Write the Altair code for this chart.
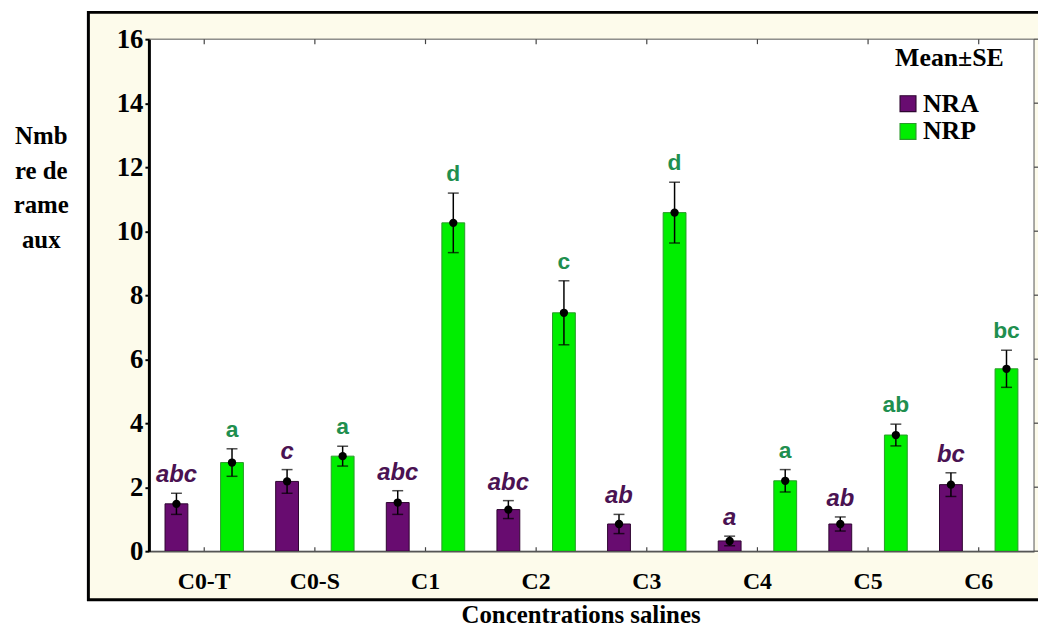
import altair as alt
import pandas as pd

# ---- data ----
categories = ["C0-T", "C0-S", "C1", "C2", "C3", "C4", "C5", "C6"]
series_names = ["NRA", "NRP"]
nra_mean = [1.48, 2.18, 1.52, 1.30, 0.85, 0.32, 0.85, 2.08]
nra_se = [0.33, 0.37, 0.37, 0.28, 0.30, 0.15, 0.22, 0.37]
nrp_mean = [2.77, 2.97, 10.26, 7.45, 10.58, 2.20, 3.63, 5.70]
nrp_se = [0.43, 0.31, 0.93, 1.00, 0.95, 0.35, 0.34, 0.58]
nra_letters = ["abc", "c", "abc", "abc", "ab", "a", "ab", "bc"]
nrp_letters = ["a", "a", "d", "c", "d", "a", "ab", "bc"]
y_ticks = [0, 2, 4, 6, 8, 10, 12, 14, 16]

rows = []
for i, c in enumerate(categories):
    rows.append(dict(cat=c, series="NRA", mean=nra_mean[i], se=nra_se[i], letter=nra_letters[i]))
    rows.append(dict(cat=c, series="NRP", mean=nrp_mean[i], se=nrp_se[i], letter=nrp_letters[i]))
df = pd.DataFrame(rows)
df["lo"] = df["mean"] - df["se"]
df["hi"] = df["mean"] + df["se"]
cat_df = pd.DataFrame({"cat": categories})
tick_df = pd.DataFrame({"v": y_ticks})
one = pd.DataFrame({"k": [0]})

W, H = 892, 516
SERIF = "Liberation Serif"
SANS = "Liberation Sans"
CREAM = "#fdfbeb"

yscale = alt.Scale(domain=[0, 16], nice=False, zero=True)
xscale = alt.Scale(paddingInner=0, paddingOuter=0)
xoscale = alt.Scale(paddingInner=0.589, paddingOuter=0.29)

x_axis = alt.Axis(
    labelAngle=0, labelFont=SERIF, labelFontSize=24, labelFontWeight="bold",
    labelColor="black", ticks=False, labelPadding=19,
    domainColor="#555555", domainWidth=1.5, grid=False,
    title="Concentrations salines", titleFont=SERIF, titleFontSize=25,
    titleFontWeight="bold", titleColor="black", titleX=435, titleY=72,
    titleBaseline="alphabetic", titleAlign="center", zindex=1,
)
y_axis = alt.Axis(
    values=y_ticks, labelFont=SERIF, labelFontSize=27, labelFontWeight="bold",
    labelColor="black", domainColor="black", domainWidth=3, tickColor="black",
    tickWidth=2, tickSize=4, labelPadding=2, grid=False,
    title=["Nmb", "re de", "rame", "aux"], titleAngle=0, titleX=-109, titleY=105,
    titleAlign="center", titleBaseline="alphabetic", titleFont=SERIF,
    titleFontSize=25, titleFontWeight="bold", titleColor="black",
    titleLineHeight=35, zindex=1,
)


def X():
    return alt.X("cat:N", sort=categories, scale=xscale, axis=x_axis)


def Y(field):
    return alt.Y(field, scale=yscale, axis=y_axis)


XO = alt.XOffset("series:N", sort=series_names, scale=xoscale)

# ---- decoration: outer frame and plot area ----
outer = alt.Chart(one).mark_rect(fill=CREAM, stroke="black", strokeWidth=3).encode(
    x=alt.value(-61), x2=alt.value(W + 30), y=alt.value(-27), y2=alt.value(565)
)
inner = alt.Chart(one).mark_rect(fill="white", stroke="#555555", strokeWidth=1).encode(
    x=alt.value(0), x2=alt.value(W), y=alt.value(0), y2=alt.value(H)
)

legend = alt.Legend(
    orient="none", legendX=752, legendY=6, title="Mean±SE", titleFont=SERIF,
    titleFontSize=26, titleFontWeight="bold", titleColor="black", titlePadding=20,
    labelFont=SERIF, labelFontSize=26, labelFontWeight="bold", labelColor="black",
    symbolType="square", symbolSize=256, symbolStrokeWidth=1.2, rowPadding=2,
    labelOffset=2, padding=0,
)

bars = alt.Chart(df).mark_bar(strokeWidth=1).encode(
    x=X(), xOffset=XO,
    y=Y("mean:Q"),
    color=alt.Color("series:N", sort=series_names,
                    scale=alt.Scale(domain=series_names, range=["#680c70", "#00ee00"]),
                    legend=legend),
    stroke=alt.Stroke("series:N", sort=series_names,
                      scale=alt.Scale(domain=series_names, range=["#2e0530", "#2a9a2a"]),
                      legend=legend),
)

err = alt.Chart(df).mark_rule(color="black", strokeWidth=1.5).encode(
    x=X(), xOffset=XO, y=Y("lo:Q"), y2="hi:Q"
)
cap_hi = alt.Chart(df).mark_tick(color="black", thickness=1.5, size=11).encode(
    x=X(), xOffset=XO, y=Y("hi:Q")
)
cap_lo = alt.Chart(df).mark_tick(color="black", thickness=1.5, size=11).encode(
    x=X(), xOffset=XO, y=Y("lo:Q")
)
dots = alt.Chart(df).mark_circle(color="black", opacity=1, size=70).encode(
    x=X(), xOffset=XO, y=Y("mean:Q")
)

lab_nra = alt.Chart(df).transform_filter(alt.datum.series == "NRA").mark_text(
    font=SANS, fontWeight="bold", fontStyle="italic", fontSize=24,
    color="#4a1252", baseline="alphabetic", dy=-11,
).encode(x=X(), xOffset=XO, y=Y("hi:Q"), text="letter:N")
lab_nrp = alt.Chart(df).transform_filter(alt.datum.series == "NRP").mark_text(
    font=SANS, fontWeight="bold", fontSize=23,
    color="#1f8f4f", baseline="alphabetic", dy=-12,
).encode(x=X(), xOffset=XO, y=Y("hi:Q"), text="letter:N")

top_ticks = alt.Chart(cat_df).mark_rule(color="#444444", strokeWidth=1.2).encode(
    x=X(), y=alt.value(0), y2=alt.value(5)
)
bot_ticks = alt.Chart(cat_df).mark_rule(color="#444444", strokeWidth=1.2).encode(
    x=X(), y=alt.value(H), y2=alt.value(H - 4)
)
right_ticks = alt.Chart(tick_df).mark_rule(color="#444444", strokeWidth=1.2).encode(
    x=alt.value(W), x2=alt.value(W + 5), y=Y("v:Q")
)

chart = alt.layer(
    outer, inner, bars, err, cap_hi, cap_lo, dots, lab_nra, lab_nrp,
    top_ticks, bot_ticks, right_ticks,
).properties(
    width=W, height=H,
    autosize=alt.AutoSizeParams(type="none"),
    padding={"left": 142, "top": 29, "right": 4, "bottom": 76},
    background="white",
).configure_view(stroke=None)

chart.save("out.html", embed_options={"renderer": "svg", "actions": False})
